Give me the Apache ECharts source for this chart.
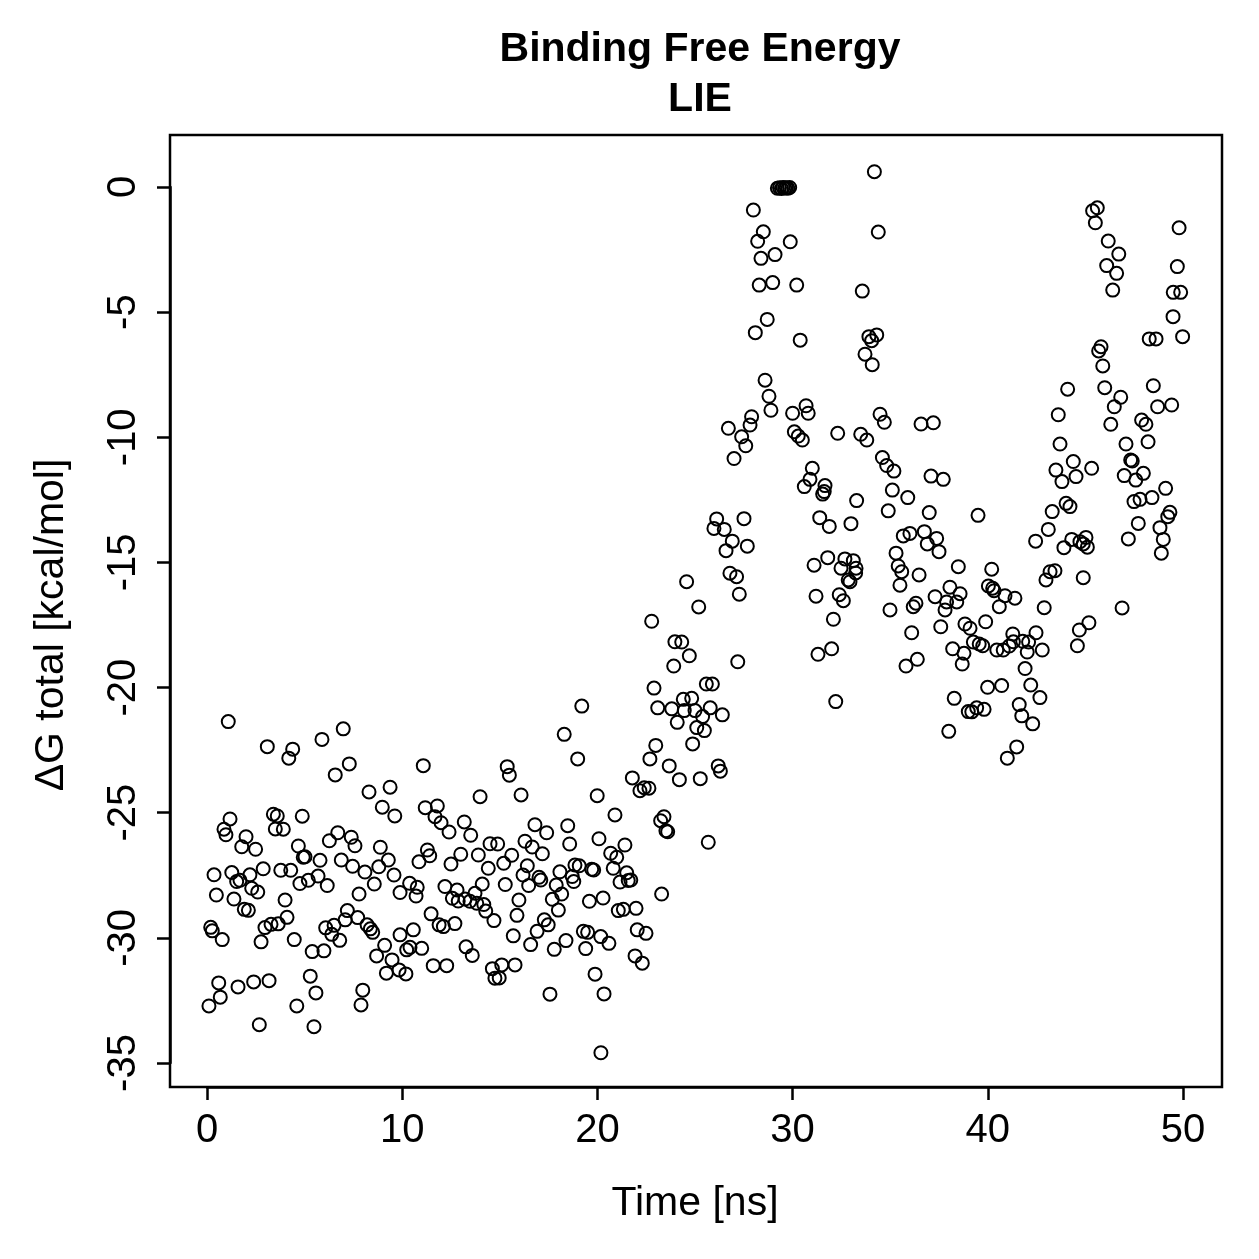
<!DOCTYPE html>
<html>
<head>
<meta charset="utf-8">
<script src="https://cdn.jsdelivr.net/npm/echarts@6/dist/echarts.min.js"></script>
<style>
html,body{margin:0;padding:0;background:#fff;}
#chart{width:1259px;height:1259px;}
</style>
</head>
<body>
<div id="chart"></div>
<script>
// [time (ns), ΔG total (kcal/mol)]
var seg0to10 = [
[1.09,-21.36],[3.09,-22.36],[4.39,-22.46],[4.19,-22.82],[5.89,-22.07],[6.98,-21.65],[7.29,-23.05],[6.57,-23.49],[8.30,-24.17],[9.38,-23.98],
[8.98,-24.78],[9.62,-25.13],[1.18,-25.25],[0.87,-25.66],[0.97,-25.88],[3.40,-25.06],[3.60,-25.13],[3.50,-25.65],[3.91,-25.66],[4.88,-25.14],
[2.00,-25.96],[1.78,-26.36],[2.49,-26.46],[4.68,-26.33],[5.02,-26.76],[4.93,-26.78],[5.79,-26.90],[6.27,-26.12],[6.70,-25.80],[7.39,-25.98],
[7.58,-26.32],[8.88,-26.38],[9.29,-26.89],[6.88,-26.89],[7.46,-27.14],[8.09,-27.37],[8.80,-27.16],[8.57,-27.85],[9.58,-27.49],[9.89,-28.19],
[0.36,-27.48],[1.27,-27.39],[1.52,-27.75],[1.69,-27.70],[2.20,-27.48],[2.88,-27.24],[3.78,-27.30],[4.29,-27.30],[4.76,-27.83],[5.19,-27.70],
[5.69,-27.53],[6.16,-27.91],[0.48,-28.29],[1.38,-28.45],[2.29,-28.02],[2.60,-28.17],[4.00,-28.49],[1.91,-28.86],[2.12,-28.90],[7.79,-28.25],
[7.19,-28.91],[7.08,-29.28],[7.72,-29.19],[8.20,-29.48],[8.37,-29.64],[8.49,-29.78],[0.19,-29.58],[0.27,-29.72],[0.78,-30.07],[2.97,-29.59],
[3.28,-29.46],[3.65,-29.44],[4.10,-29.18],[2.77,-30.16],[4.47,-30.07],[6.08,-29.60],[6.51,-29.50],[6.39,-29.86],[6.80,-30.10],[5.39,-30.55],
[5.99,-30.52],[9.10,-30.30],[8.69,-30.72],[9.48,-30.88],[9.89,-29.88],[9.19,-31.41],[0.60,-31.80],[0.68,-32.37],[0.10,-32.72],[1.59,-31.96],
[2.39,-31.76],[3.18,-31.71],[5.29,-31.53],[5.58,-32.20],[4.60,-32.72],[7.98,-32.09],[7.89,-32.68],[2.68,-33.47],[5.48,-33.55],[9.84,-31.28]
];
var seg10to20 = [
[19.20,-20.74],[18.30,-21.87],[18.99,-22.85],[11.08,-23.12],[15.38,-23.16],[15.49,-23.50],[13.99,-24.36],[16.09,-24.29],[19.99,-24.32],[11.18,-24.80],
[11.80,-24.73],[11.68,-25.16],[11.99,-25.40],[12.40,-25.77],[13.18,-25.37],[13.51,-25.90],[16.80,-25.48],[17.40,-25.80],[18.48,-25.52],[18.58,-26.25],
[20.08,-26.04],[16.29,-26.14],[16.66,-26.37],[17.18,-26.64],[14.50,-26.24],[14.89,-26.25],[11.29,-26.49],[11.41,-26.72],[10.86,-26.96],[13.00,-26.66],
[12.50,-27.05],[13.90,-26.69],[15.61,-26.70],[15.20,-27.02],[14.41,-27.22],[16.41,-27.12],[16.19,-27.49],[17.01,-27.58],[17.10,-27.69],[16.48,-27.91],
[15.28,-27.87],[18.08,-27.36],[18.85,-27.09],[19.07,-27.12],[19.71,-27.26],[19.81,-27.29],[18.71,-27.55],[18.79,-27.75],[17.89,-27.89],[18.17,-28.25],
[17.69,-28.46],[18.00,-28.89],[15.98,-28.49],[15.88,-29.10],[19.59,-28.54],[20.29,-28.41],[10.38,-27.82],[10.77,-27.98],[10.71,-28.33],[12.19,-27.95],
[12.81,-28.09],[12.57,-28.42],[12.87,-28.53],[13.22,-28.45],[13.47,-28.54],[13.73,-28.22],[13.82,-28.62],[14.10,-27.85],[14.18,-28.67],[14.28,-28.93],
[14.70,-29.31],[11.48,-29.04],[11.89,-29.48],[12.11,-29.55],[12.70,-29.43],[10.57,-29.68],[11.00,-30.42],[10.40,-30.38],[10.23,-30.48],[10.19,-31.44],
[11.59,-31.11],[12.28,-31.11],[13.27,-30.36],[13.59,-30.70],[14.62,-31.23],[15.10,-31.08],[14.75,-31.61],[14.97,-31.60],[15.78,-31.08],[15.69,-29.92],
[16.58,-30.27],[16.91,-29.74],[17.28,-29.28],[17.48,-29.48],[17.79,-30.46],[18.39,-30.11],[19.28,-29.74],[19.50,-29.78],[19.40,-30.43],[20.17,-29.95],
[19.88,-31.45],[20.34,-32.24],[17.57,-32.25],[20.18,-34.59]
];
var seg20to30 = [
[26.79,-15.43],[27.13,-15.57],[27.27,-16.27],[24.57,-15.77],[25.19,-16.78],[22.78,-17.35],[23.97,-18.17],[24.32,-18.18],[24.71,-18.73],[23.91,-19.14],
[27.19,-18.97],[22.90,-20.02],[25.58,-19.86],[25.89,-19.86],[24.40,-20.47],[24.83,-20.43],[23.09,-20.81],[23.81,-20.85],[24.45,-20.92],[25.00,-20.92],
[25.39,-21.16],[25.78,-20.81],[26.40,-21.09],[24.09,-21.39],[25.09,-21.60],[25.48,-21.72],[24.88,-22.25],[22.99,-22.31],[22.69,-22.85],[23.68,-23.13],
[24.20,-23.68],[25.27,-23.64],[26.19,-23.13],[26.30,-23.34],[21.79,-23.61],[22.18,-24.12],[22.40,-24.00],[22.64,-24.02],[20.90,-25.09],[23.41,-25.16],
[23.24,-25.32],[23.51,-25.72],[23.60,-25.76],[25.68,-26.18],[20.68,-26.62],[20.99,-26.78],[21.41,-26.29],[20.81,-27.22],[21.50,-27.40],[21.16,-27.77],
[21.58,-27.71],[21.71,-27.69],[23.29,-28.25],[21.07,-28.91],[21.33,-28.86],[21.98,-28.82],[22.04,-29.68],[22.49,-29.82],[20.59,-30.22],[21.93,-30.72],
[22.30,-31.01],[26.11,-13.26],[25.97,-13.64],[26.50,-13.68],[27.51,-13.25],[26.91,-14.15],[26.59,-14.53],[27.68,-14.35],
[29.22,-0.05],[29.33,-0.03],[29.43,-0.06],[29.51,-0.02],[29.60,-0.04],[29.68,-0.03],[29.76,-0.05],[29.85,-0.02],
[27.99,-0.92],[28.50,-1.79],[28.21,-2.17],[29.88,-2.19],[28.38,-2.85],[29.10,-2.70],[28.29,-3.92],[28.98,-3.82],[28.70,-5.29],[28.09,-5.82],
[28.59,-7.72],[28.79,-8.36],[28.89,-8.92],[27.90,-9.18],[27.82,-9.51],[26.71,-9.64],[27.39,-9.98],[27.60,-10.34],[27.00,-10.85]
];
var seg30to40 = [
[30.21,-3.92],[30.39,-6.12],[30.00,-9.04],[30.69,-8.74],[30.80,-9.04],[32.31,-9.84],[30.09,-9.78],[30.29,-9.95],[30.50,-10.11],[31.01,-11.24],
[30.89,-11.68],[30.60,-11.97],[31.66,-11.93],[31.54,-12.27],[31.62,-12.17],[33.28,-12.53],[31.39,-13.21],[31.88,-13.56],[32.99,-13.45],[31.80,-14.81],
[31.10,-15.11],[32.48,-15.23],[32.68,-14.86],[33.11,-14.93],[33.25,-15.23],[32.85,-15.70],[32.94,-15.77],[31.20,-16.35],[32.39,-16.29],[32.60,-16.53],
[32.09,-17.27],[31.30,-18.67],[32.00,-18.45],[32.21,-20.56],[33.23,-15.42],
[34.19,0.61],[34.39,-1.80],[33.57,-4.16],[33.91,-5.98],[34.31,-5.91],[34.05,-6.14],[33.71,-6.68],[34.08,-7.10],[34.48,-9.08],[34.70,-9.40],
[36.58,-9.47],[37.21,-9.42],[33.49,-9.88],[33.80,-10.11],[34.60,-10.81],[34.82,-11.13],[35.19,-11.35],[37.09,-11.55],[37.72,-11.68],[35.11,-12.11],
[35.90,-12.41],[34.90,-12.94],[37.00,-13.01],[39.50,-13.12],[35.67,-13.94],[36.01,-13.84],[36.75,-13.77],[36.90,-14.26],[37.38,-14.04],[37.50,-14.57],
[35.30,-14.63],[35.41,-15.14],[35.59,-15.37],[36.48,-15.50],[38.49,-15.17],[35.50,-15.91],[34.99,-16.90],[36.18,-16.77],[36.32,-16.63],[37.30,-16.37],
[37.89,-16.58],[37.81,-16.90],[38.06,-15.99],[38.58,-16.25],[38.41,-16.58],[36.10,-17.81],[37.59,-17.57],[38.83,-17.46],[39.09,-17.63],[39.89,-17.37],
[38.20,-18.45],[38.78,-18.63],[38.69,-19.06],[39.26,-18.18],[39.56,-18.26],[39.74,-18.33],[36.39,-18.87],[35.81,-19.14],[39.99,-19.99],[38.28,-20.43],
[39.00,-20.96],[39.18,-20.97],[39.43,-20.81],[39.81,-20.87],[38.00,-21.75]
];
var seg40to50 = [
[40.20,-15.27],[42.45,-14.15],[40.03,-15.94],[40.25,-16.03],[40.32,-16.13],[40.88,-16.33],[41.39,-16.43],[40.59,-16.77],[40.46,-18.50],[40.79,-18.50],
[41.10,-18.34],[41.28,-17.86],[41.31,-18.17],[41.79,-18.15],[42.09,-18.18],[42.02,-18.58],[42.47,-17.81],[41.91,-19.24],[40.71,-19.92],[42.20,-19.90],
[41.61,-20.68],[41.74,-21.13],[42.30,-21.45],[41.48,-22.37],[41.00,-22.82],
[43.61,-9.10],[43.70,-10.27],[44.38,-10.97],[45.32,-11.24],[43.49,-11.31],[43.80,-11.77],[44.52,-11.57],[44.01,-12.64],[44.21,-12.77],[43.30,-12.97],
[43.10,-13.68],[43.90,-14.41],[44.30,-14.08],[44.72,-14.17],[45.03,-14.00],[45.10,-14.39],[44.89,-14.26],[43.19,-15.37],[43.44,-15.33],[42.98,-15.70],
[44.89,-15.61],[42.89,-16.81],[45.18,-17.41],[44.69,-17.70],[44.59,-18.33],[42.79,-18.50],[42.67,-20.40],
[45.37,-0.95],[45.61,-0.83],[45.51,-1.43],[49.80,-1.63],[46.17,-2.16],[46.71,-2.68],[46.09,-3.14],[46.60,-3.45],[49.71,-3.18],[46.40,-4.12],
[49.50,-4.21],[49.88,-4.21],[49.49,-5.18],[48.27,-6.07],[48.62,-6.07],[49.98,-5.98],[45.80,-6.38],[45.68,-6.55],[45.89,-7.15],[44.09,-8.08],
[45.99,-8.02],[46.81,-8.40],[46.48,-8.78],[48.48,-7.94],[48.70,-8.78],[49.42,-8.71],[46.30,-9.48],[47.88,-9.31],[48.10,-9.48],[48.21,-10.18],
[47.08,-10.27],[47.32,-10.91],[47.40,-10.95],[46.99,-11.53],[47.58,-11.71],[47.97,-11.44],[49.11,-12.04],[47.49,-12.57],[47.80,-12.48],[48.41,-12.41],
[49.33,-13.00],[49.22,-13.17],[48.82,-13.61],[48.99,-14.08],[48.89,-14.63],[47.71,-13.44],[47.20,-14.06],[46.88,-16.82]
];

var xTicks = {min: 0, max: 50, step: 10};
var yTicks = {min: -35, max: 0, step: 5};
var points = seg0to10.concat(seg10to20, seg20to30, seg30to40, seg40to50);

var FONT = 'Liberation Sans, Arial, Helvetica, sans-serif';
var chart = echarts.init(document.getElementById('chart'), null, {renderer: 'canvas'});
chart.setOption({
  animation: false,
  backgroundColor: '#ffffff',
  title: {
    text: 'Binding Free Energy\nLIE',
    left: 695,
    top: 20,
    textAlign: 'center',
    textStyle: {fontFamily: FONT, fontSize: 41, fontWeight: 'bold', color: '#000', lineHeight: 50}
  },
  grid: [
    {left: 170, top: 135, width: 1052, height: 952, show: true, borderColor: '#000', borderWidth: 2.5, backgroundColor: 'transparent'},
    {left: 207, top: 187, width: 976, height: 876}
  ],
  xAxis: [
    {gridIndex: 0, type: 'value', show: false, min: 0, max: 1},
    {gridIndex: 1, type: 'value', min: xTicks.min, max: xTicks.max, interval: xTicks.step,
     position: 'bottom', offset: 24,
     name: 'Time [ns]', nameLocation: 'middle', nameGap: 96,
     nameTextStyle: {fontFamily: FONT, fontSize: 41, color: '#000'},
     axisLine: {show: true, onZero: false, lineStyle: {color: '#000', width: 2.5}},
     axisTick: {show: true, length: 13, lineStyle: {color: '#000', width: 2.5}},
     axisLabel: {fontFamily: FONT, fontSize: 40, color: '#000', margin: 24},
     splitLine: {show: false}}
  ],
  yAxis: [
    {gridIndex: 0, type: 'value', show: false, min: 0, max: 1},
    {gridIndex: 1, type: 'value', min: yTicks.min, max: yTicks.max, interval: yTicks.step,
     position: 'left', offset: 37,
     name: 'ΔG total [kcal/mol]', nameLocation: 'middle', nameGap: 98,
     nameTextStyle: {fontFamily: FONT, fontSize: 41, color: '#000'},
     axisLine: {show: true, onZero: false, lineStyle: {color: '#000', width: 2.5}},
     axisTick: {show: true, length: 13, lineStyle: {color: '#000', width: 2.5}},
     axisLabel: {fontFamily: FONT, fontSize: 40, color: '#000', margin: 26, rotate: 90},
     splitLine: {show: false}}
  ],
  series: [{
    type: 'scatter',
    xAxisIndex: 1,
    yAxisIndex: 1,
    clip: false,
    data: points,
    symbol: 'circle',
    symbolSize: 13,
    itemStyle: {color: 'rgba(0,0,0,0)', borderColor: '#000', borderWidth: 2, opacity: 1},
    emphasis: {disabled: true}
  }]
});
</script>
</body>
</html>
